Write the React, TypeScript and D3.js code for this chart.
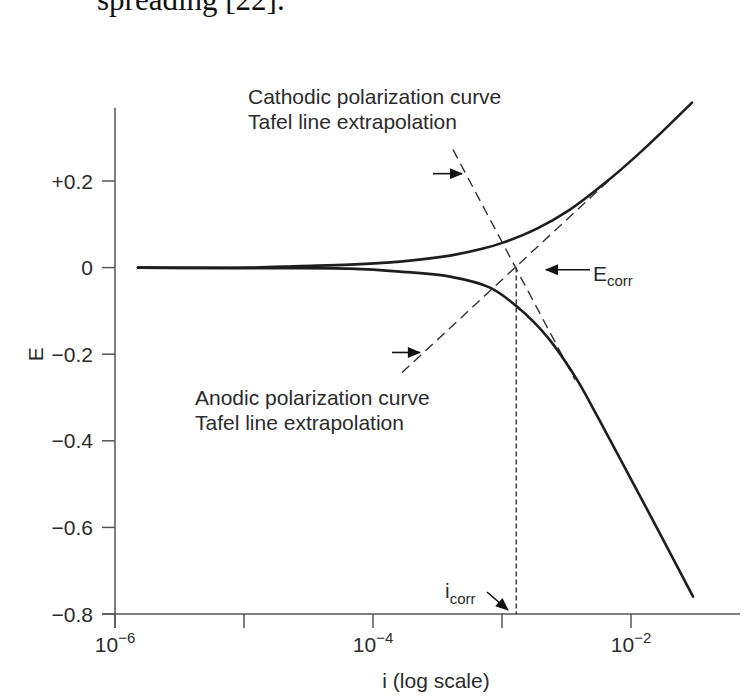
import React from "react";
import * as d3 from "d3";

// ---- data (log10 of current density, potential E) ----
const upperLogI = [-5.822, -4.953, -4.566, -4.178, -3.791, -3.403, -3.147, -2.992, -2.729, -2.473, -2.217, -1.93, -1.527];
const upperE = [0, 0, 0.0035, 0.0069, 0.0139, 0.0277, 0.0439, 0.0577, 0.0901, 0.1339, 0.1917, 0.2656, 0.3811];

const lowerLogI = [-5.822, -4.953, -4.178, -3.791, -3.403, -3.093, -2.884, -2.651, -2.419, -2.264, -2.085, -1.829, -1.519];
const lowerE = [0, -0.0012, -0.0023, -0.0092, -0.0208, -0.0462, -0.0901, -0.1594, -0.2587, -0.3418, -0.4411, -0.5843, -0.7598];

const cathodicTafelLogI = [-3.38, -2.434];
const cathodicTafelE = [0.2725, -0.2587];
const anodicTafelLogI = [-3.775, -2.147];
const anodicTafelE = [-0.2425, 0.208];

const iCorrLog = -2.89;
const eCorr = 0;

const xTickExps = [-6, -5, -4, -3, -2];
const xLabelExps = [-6, -4, -2];
const yTicks = [0.2, 0, -0.2, -0.4, -0.6, -0.8];
const yTickLabels = ["+0.2", "0", "\u22120.2", "\u22120.4", "\u22120.6", "\u22120.8"];

export default function App() {
  const W = 746, H = 697;
  const x = d3.scaleLog().domain([1e-6, 1e-2]).range([115, 631]);
  const y = d3.scaleLinear().domain([-0.8, 0.2]).range([614, 181]);
  const X = (l: number) => x(Math.pow(10, l));

  const line = d3
    .line<[number, number]>()
    .x((d) => X(d[0]))
    .y((d) => y(d[1]))
    .curve(d3.curveCatmullRom.alpha(0.5));
  const straight = d3
    .line<[number, number]>()
    .x((d) => X(d[0]))
    .y((d) => y(d[1]));

  const zip = (a: number[], b: number[]) => a.map((v, i) => [v, b[i]] as [number, number]);

  const font = "'Liberation Sans', Arial, Helvetica, sans-serif";
  const txt = "#2b2b2b";
  const axisCol = "#555";

  const axisLeft = 115;
  const axisBottom = y(-0.8);
  const axisTop = y(0.369);
  const axisRight = 740;

  // annotation arrows in data coords: [logI tail, logI tip, E]
  const cathArrow = { from: -3.535, to: -3.31, e: 0.217 };
  const anoArrow = { from: -3.853, to: -3.636, e: -0.196 };
  const eArrow = { from: -2.318, to: -2.659, e: -0.005 };

  return (
    <svg
      width={W}
      height={H}
      style={{ position: "absolute", left: 0, top: 0, background: "#fff" }}
      fontFamily={font}
    >
      <defs>
        <marker id="ah" viewBox="0 0 12 10" refX="11" refY="5" markerWidth="14" markerHeight="11" markerUnits="userSpaceOnUse" orient="auto">
          <path d="M0,0 L12,5 L0,10 z" fill="#111" />
        </marker>
      </defs>
      <rect x={0} y={0} width={W} height={H} fill="#fff" />

      {/* page text fragment */}
      <text x={97} y={10} fontFamily="'Liberation Serif', 'Times New Roman', serif" fontSize={31} fill="#111">
        spreading [22].
      </text>

      {/* axes */}
      <line x1={axisLeft} x2={axisLeft} y1={axisTop} y2={axisBottom + 14} stroke={axisCol} strokeWidth={1.5} />
      <line x1={axisLeft - 13} x2={axisRight} y1={axisBottom} y2={axisBottom} stroke={axisCol} strokeWidth={1.5} />
      {yTicks.map((t, i) => (
        <g key={"yt" + i}>
          <line x1={axisLeft - 13} x2={axisLeft} y1={y(t)} y2={y(t)} stroke={axisCol} strokeWidth={1.5} />
          <text x={93} y={y(t) + 7.5} textAnchor="end" fontSize={21} fill={txt}>
            {yTickLabels[i]}
          </text>
        </g>
      ))}
      {xTickExps.map((e) => (
        <line key={"xt" + e} x1={x(Math.pow(10, e))} x2={x(Math.pow(10, e))} y1={axisBottom} y2={axisBottom + 14} stroke={axisCol} strokeWidth={1.5} />
      ))}
      {xLabelExps.map((e) => (
        <text key={"xl" + e} x={x(Math.pow(10, e))} y={652} textAnchor="middle" fontSize={21} fill={txt}>
          10
          <tspan fontSize={15} dy={-9}>{"\u2212" + Math.abs(e)}</tspan>
        </text>
      ))}
      <text x={436} y={688} textAnchor="middle" fontSize={21} fill={txt}>
        i (log scale)
      </text>
      <text transform={`translate(43,${y(-0.2)}) rotate(-90)`} textAnchor="middle" fontSize={21} fill={txt}>
        E
      </text>

      {/* Tafel extrapolation lines */}
      <path d={straight(zip(cathodicTafelLogI, cathodicTafelE)) || ""} fill="none" stroke="#333" strokeWidth={1.4} strokeDasharray="10,6" />
      <path d={straight(zip(anodicTafelLogI, anodicTafelE)) || ""} fill="none" stroke="#333" strokeWidth={1.4} strokeDasharray="10,6" />

      {/* i_corr vertical */}
      <line x1={X(iCorrLog)} x2={X(iCorrLog)} y1={y(eCorr)} y2={axisBottom} stroke="#222" strokeWidth={1.3} strokeDasharray="5,3" />

      {/* polarization curves */}
      <path d={line(zip(upperLogI, upperE)) || ""} fill="none" stroke="#1e1e1e" strokeWidth={2.6} strokeLinecap="round" />
      <path d={line(zip(lowerLogI, lowerE)) || ""} fill="none" stroke="#1e1e1e" strokeWidth={2.6} strokeLinecap="round" />

      {/* annotation arrows */}
      <line x1={X(cathArrow.from)} x2={X(cathArrow.to)} y1={y(cathArrow.e)} y2={y(cathArrow.e)} stroke="#111" strokeWidth={1.6} markerEnd="url(#ah)" />
      <line x1={X(anoArrow.from)} x2={X(anoArrow.to)} y1={y(anoArrow.e)} y2={y(anoArrow.e)} stroke="#111" strokeWidth={1.6} markerEnd="url(#ah)" />
      <line x1={X(eArrow.from)} x2={X(eArrow.to)} y1={y(eArrow.e)} y2={y(eArrow.e)} stroke="#111" strokeWidth={1.6} markerEnd="url(#ah)" />
      <line x1={487} y1={592} x2={508} y2={610} stroke="#111" strokeWidth={1.6} markerEnd="url(#ah)" />

      {/* labels */}
      <text x={248} y={104} fontSize={21} fill={txt}>Cathodic polarization curve</text>
      <text x={248} y={129} fontSize={21} fill={txt}>Tafel line extrapolation</text>
      <text x={195} y={405} fontSize={21} fill={txt}>Anodic polarization curve</text>
      <text x={195} y={430} fontSize={21} fill={txt}>Tafel line extrapolation</text>
      <text x={593} y={281} fontSize={21} fill={txt}>
        E<tspan fontSize={15} dy={5}>corr</tspan>
      </text>
      <text x={445} y={598} fontSize={21} fill={txt}>
        i<tspan fontSize={15} dy={6}>corr</tspan>
      </text>
    </svg>
  );
}
